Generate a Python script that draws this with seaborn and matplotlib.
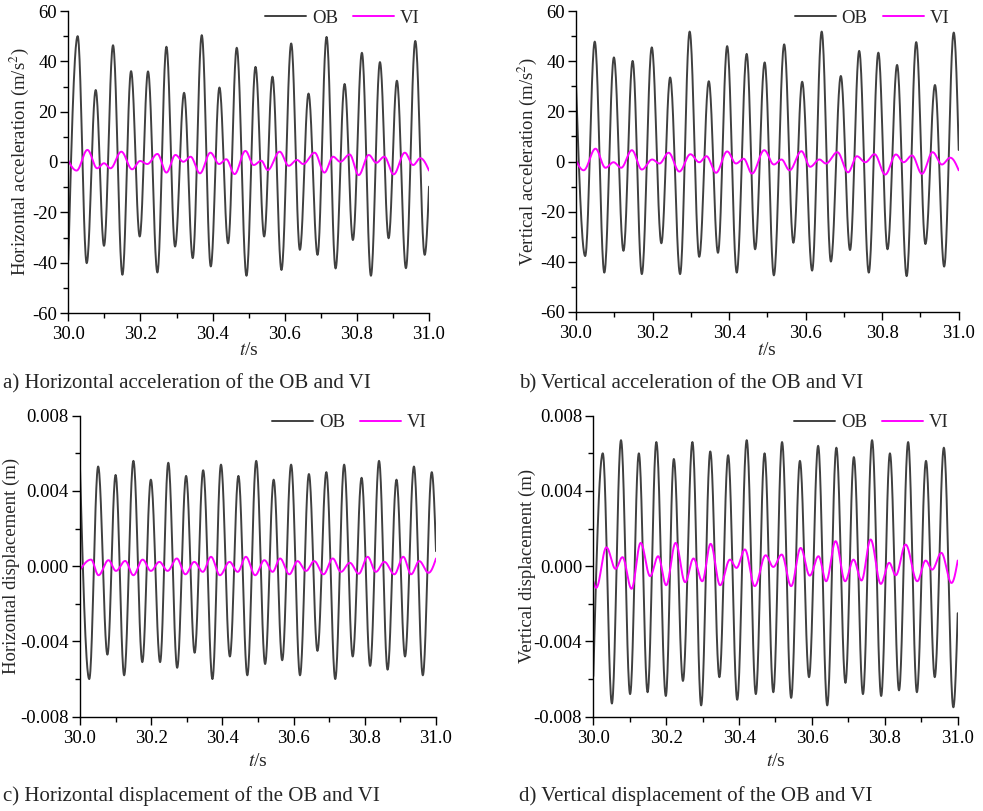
import numpy as np
import pandas as pd
import matplotlib
matplotlib.use("Agg")
import matplotlib.pyplot as plt
from matplotlib.lines import Line2D
from matplotlib.ticker import MultipleLocator, FormatStrFormatter
import seaborn as sns

# ---------------- data: extrema (time offset from 30 s, value) ----------------
# (a) horizontal acceleration, m/s^2
t_a_ob = [0.000, 0.026, 0.051, 0.076, 0.099, 0.124, 0.150, 0.174, 0.198, 0.221, 0.247, 0.272, 0.296,
          0.321, 0.345, 0.370, 0.395, 0.419, 0.443, 0.467, 0.494, 0.519, 0.543, 0.566, 0.591, 0.618,
          0.642, 0.666, 0.691, 0.716, 0.741, 0.766, 0.789, 0.814, 0.839, 0.864, 0.888, 0.911, 0.936,
          0.962, 0.988, 1.000]
v_a_ob = [-39.0, 50.0, -40.2, 28.6, -33.3, 46.4, -44.8, 36.1, -29.6, 36.0, -43.9, 45.8, -33.6,
          27.5, -38.2, 50.4, -41.5, 29.6, -32.3, 45.4, -45.2, 37.8, -29.6, 33.9, -42.9, 47.1,
          -34.9, 27.2, -36.9, 49.7, -42.3, 31.0, -31.0, 43.4, -45.2, 39.7, -30.3, 32.3, -42.2,
          48.1, -36.9, -9.8]
t_a_vi = [0.000, 0.023, 0.053, 0.080, 0.099, 0.117, 0.147, 0.177, 0.199, 0.219, 0.247, 0.272, 0.297,
          0.319, 0.339, 0.365, 0.394, 0.418, 0.438, 0.461, 0.491, 0.514, 0.535, 0.553, 0.586, 0.611,
          0.634, 0.651, 0.683, 0.710, 0.734, 0.754, 0.780, 0.805, 0.833, 0.854, 0.876, 0.902, 0.933,
          0.956, 0.976, 1.000]
v_a_vi = [0.5, -3.4, 4.8, -2.5, -0.5, -2.5, 4.1, -2.9, 0.4, -0.8, 3.2, -4.2, 2.8,
          0.1, 2.1, -4.5, 3.7, -0.8, 1.1, -4.8, 4.4, -1.2, 0.5, -3.2, 4.1, -1.5,
          0.8, -0.8, 3.7, -4.2, 2.1, 0.1, 3.0, -5.2, 2.8, -0.3, 2.1, -4.9, 3.7,
          -1.2, 1.5, -3.4]

# (b) vertical acceleration, m/s^2
t_b_ob = [0.000, 0.024, 0.049, 0.074, 0.099, 0.124, 0.148, 0.172, 0.198, 0.223, 0.246, 0.272, 0.297,
          0.322, 0.347, 0.371, 0.395, 0.420, 0.446, 0.468, 0.493, 0.517, 0.544, 0.568, 0.591, 0.617,
          0.642, 0.666, 0.692, 0.716, 0.740, 0.765, 0.790, 0.814, 0.839, 0.864, 0.889, 0.913, 0.938,
          0.962, 0.987, 1.000]
v_b_ob = [31.2, -37.7, 47.8, -44.3, 41.5, -35.6, 40.1, -44.9, 45.5, -32.6, 33.5, -44.9, 51.8,
          -38.0, 32.0, -36.4, 46.0, -44.3, 42.9, -35.0, 39.5, -45.4, 46.7, -32.4, 31.8, -43.5,
          51.8, -39.9, 34.1, -35.3, 44.1, -44.3, 43.4, -35.0, 38.5, -45.7, 47.6, -32.9, 30.5,
          -41.9, 51.4, 4.6]
t_b_vi = [0.000, 0.020, 0.051, 0.077, 0.098, 0.118, 0.146, 0.172, 0.199, 0.218, 0.242, 0.270, 0.299,
          0.322, 0.341, 0.366, 0.395, 0.418, 0.438, 0.460, 0.492, 0.517, 0.537, 0.558, 0.589, 0.612,
          0.636, 0.653, 0.683, 0.711, 0.734, 0.756, 0.780, 0.808, 0.836, 0.856, 0.878, 0.904, 0.932,
          0.956, 0.978, 1.000]
v_b_vi = [0.5, -3.5, 5.1, -2.5, -0.3, -2.5, 4.5, -3.2, 0.8, -0.8, 3.5, -4.0, 2.9,
          -0.3, 2.1, -4.5, 4.0, -0.8, 1.1, -4.8, 4.5, -1.2, 0.8, -3.5, 4.1, -2.1,
          0.8, -0.8, 3.7, -4.3, 2.1, -0.3, 2.9, -5.2, 2.8, -0.3, 2.4, -4.9, 3.7,
          -1.2, 1.5, -3.5]

# (c) horizontal displacement, m
t_c_ob = [0.000, 0.026, 0.051, 0.077, 0.100, 0.124, 0.150, 0.175, 0.199, 0.225, 0.248, 0.273, 0.298,
          0.322, 0.346, 0.372, 0.396, 0.421, 0.445, 0.470, 0.495, 0.520, 0.544, 0.568, 0.593, 0.618,
          0.643, 0.667, 0.692, 0.717, 0.742, 0.766, 0.791, 0.815, 0.840, 0.864, 0.889, 0.913, 0.938,
          0.963, 0.988, 1.000]
v_c_ob = [0.0052, -0.0060, 0.0053, -0.0047, 0.00485, -0.0058, 0.0056, -0.0051, 0.0046, -0.0051, 0.0055,
          -0.0054, 0.0048, -0.0046, 0.0051, -0.0060, 0.0054, -0.0048, 0.0048, -0.0058, 0.0056,
          -0.0052, 0.0046, -0.0050, 0.0054, -0.0058, 0.0049, -0.0045, 0.0050, -0.0060, 0.0054,
          -0.0048, 0.0047, -0.0053, 0.0056, -0.0055, 0.0046, -0.0048, 0.0053, -0.0058, 0.0050, 0.0008]
t_c_vi = [0.000, 0.031, 0.052, 0.080, 0.101, 0.127, 0.150, 0.176, 0.199, 0.223, 0.246, 0.272, 0.296,
          0.321, 0.345, 0.368, 0.393, 0.420, 0.443, 0.466, 0.492, 0.518, 0.541, 0.562, 0.588, 0.611,
          0.635, 0.658, 0.684, 0.710, 0.733, 0.758, 0.783, 0.808, 0.831, 0.855, 0.883, 0.908, 0.930,
          0.953, 0.979, 1.000]
v_c_vi = [-0.00020, 0.00035, -0.00048, 0.00032, -0.00025, 0.00028, -0.00048, 0.00035, -0.00025, 0.00023,
          -0.00025, 0.00041, -0.00043, 0.00023, -0.00030, 0.00050, -0.00048, 0.00023, -0.00030, 0.00050,
          -0.00048, 0.00032, -0.00030, 0.00041, -0.00043, 0.00027, -0.00025, 0.00027, -0.00043, 0.00041,
          -0.00030, 0.00018, -0.00040, 0.00050, -0.00030, 0.00023, -0.00043, 0.00050, -0.00043, 0.00027,
          -0.00035, 0.00041]

# (d) vertical displacement, m
t_d_ob = [0.000, 0.026, 0.051, 0.076, 0.101, 0.125, 0.149, 0.173, 0.199, 0.221, 0.246, 0.272, 0.296,
          0.321, 0.346, 0.370, 0.395, 0.421, 0.446, 0.470, 0.494, 0.518, 0.543, 0.567, 0.592, 0.617,
          0.642, 0.667, 0.692, 0.715, 0.740, 0.765, 0.790, 0.814, 0.839, 0.864, 0.888, 0.913, 0.937,
          0.962, 0.988, 1.000]
v_d_ob = [-0.00585, 0.0060, -0.0073, 0.0067, -0.0068, 0.0060, -0.0067, 0.0066, -0.0069, 0.0057, -0.0061,
          0.0066, -0.0074, 0.0061, -0.0059, 0.0059, -0.0071, 0.0067, -0.0068, 0.0060, -0.0067, 0.0066,
          -0.0070, 0.0056, -0.0059, 0.0064, -0.0074, 0.0063, -0.0062, 0.0058, -0.0068, 0.0067, -0.0069,
          0.0060, -0.0066, 0.0066, -0.0067, 0.0056, -0.0059, 0.0063, -0.0075, -0.0025]
t_d_vi = [0.000, 0.008, 0.036, 0.061, 0.080, 0.105, 0.130, 0.156, 0.178, 0.200, 0.226, 0.252, 0.275,
          0.299, 0.322, 0.348, 0.375, 0.393, 0.416, 0.443, 0.473, 0.494, 0.517, 0.543, 0.569, 0.594,
          0.618, 0.639, 0.665, 0.691, 0.714, 0.736, 0.761, 0.789, 0.812, 0.830, 0.857, 0.889, 0.912,
          0.930, 0.955, 0.983, 1.000]
v_d_vi = [-0.00080, -0.00115, 0.00100, -0.00014, 0.00048, -0.00120, 0.00124, -0.00053, 0.00053, -0.00101,
          0.00124, -0.00085, 0.00041, -0.00080, 0.00119, -0.00101, 0.00035, -0.00009, 0.00089, -0.00106,
          0.00058, -0.00004, 0.00062, -0.00106, 0.00097, -0.00050, 0.00053, -0.00080, 0.00133, -0.00080,
          0.00035, -0.00076, 0.00142, -0.00094, 0.00018, -0.00048, 0.00115, -0.00080, 0.00030, -0.00018,
          0.00071, -0.00089, 0.00030]

T0 = 30.0
series_names = ["OB", "VI"]
colors = {"OB": "#404040", "VI": "#ff00ff"}
ylabels = ["Horizontal acceleration (m/s$^2$)", "Vertical acceleration (m/s$^2$)",
           "Horizontal displacement (m)", "Vertical displacement (m)"]
captions = ["a) Horizontal acceleration of the OB and VI", "b) Vertical acceleration of the OB and VI",
            "c) Horizontal displacement of the OB and VI", "d) Vertical displacement of the OB and VI"]


def smooth_trace(ts, vs, n=24):
    """Render the extrema as a smooth oscillation (half-cosine between turning points)."""
    ts = np.asarray(ts) + T0
    vs = np.asarray(vs, dtype=float)
    out_t, out_v = [], []
    last = len(ts) - 2
    for i in range(len(ts) - 1):
        u = np.linspace(0, 1, n, endpoint=False)
        if i == 0:
            w = np.sin(np.pi / 2 * u)
        elif i == last:
            w = 1 - np.cos(np.pi / 2 * u)
        else:
            w = (1 - np.cos(np.pi * u)) / 2
        out_t.append(ts[i] + (ts[i + 1] - ts[i]) * u)
        out_v.append(vs[i] + (vs[i + 1] - vs[i]) * w)
    out_t.append([ts[-1]])
    out_v.append([vs[-1]])
    return np.concatenate(out_t), np.concatenate(out_v)


def make_df(t_ob, v_ob, t_vi, v_vi):
    frames = []
    for name, tt, vv in [("OB", t_ob, v_ob), ("VI", t_vi, v_vi)]:
        x, y = smooth_trace(tt, vv)
        frames.append(pd.DataFrame({"t": x, "value": y, "series": name}))
    return pd.concat(frames, ignore_index=True)


panels = [
    make_df(t_a_ob, v_a_ob, t_a_vi, v_a_vi),
    make_df(t_b_ob, v_b_ob, t_b_vi, v_b_vi),
    make_df(t_c_ob, v_c_ob, t_c_vi, v_c_vi),
    make_df(t_d_ob, v_d_ob, t_d_vi, v_d_vi),
]

sns.set_style("ticks")
plt.rcParams["font.family"] = ["Liberation Serif", "DejaVu Serif"]
plt.rcParams["mathtext.fontset"] = "stix"
plt.rcParams["axes.unicode_minus"] = False

W, H = 983, 811
fig = plt.figure(figsize=(W / 100, H / 100), dpi=100)

# axes boxes in pixels: left, top, right, bottom
boxes = [(68.3, 11, 429, 313), (576, 11, 958.7, 312),
         (80, 415.7, 436, 716.7), (593.3, 415.7, 957.7, 716.7)]
cap_pos = [(3, 384), (519, 384), (3, 796), (519, 796)]
xlab_y = [351, 351, 761, 761]
ylab_x = [19, 527, 11, 527]   # centre of rotated y label, px

for k, (df, box) in enumerate(zip(panels, boxes)):
    l, t, r, b = box
    ax = fig.add_axes([l / W, 1 - b / H, (r - l) / W, (b - t) / H])
    sns.lineplot(data=df, x="t", y="value", hue="series", palette=colors,
                 hue_order=series_names, estimator=None, sort=False,
                 linewidth=1.4, legend=False, ax=ax)
    ax.set_xlim(30.0, 31.0)
    ax.xaxis.set_major_locator(MultipleLocator(0.2))
    ax.xaxis.set_minor_locator(MultipleLocator(0.1))
    ax.xaxis.set_major_formatter(FormatStrFormatter("%.1f"))
    if k < 2:
        ax.set_ylim(-60, 60)
        ax.yaxis.set_major_locator(MultipleLocator(20))
        ax.yaxis.set_minor_locator(MultipleLocator(10))
        ax.yaxis.set_major_formatter(FormatStrFormatter("%d"))
    else:
        ax.set_ylim(-0.008, 0.008)
        ax.yaxis.set_major_locator(MultipleLocator(0.004))
        ax.yaxis.set_minor_locator(MultipleLocator(0.002))
        ax.yaxis.set_major_formatter(FormatStrFormatter("%.3f"))
    sns.despine(ax=ax)
    for sp in ("left", "bottom"):
        ax.spines[sp].set_linewidth(1.0)
        ax.spines[sp].set_color("black")
    ax.tick_params(which="major", direction="out", length=6, width=1, labelsize=13.5, colors="black")
    ax.tick_params(axis="y", which="major", pad=2)
    ax.tick_params(which="minor", direction="out", length=3.5, width=1, colors="black")
    ax.set_ylabel(ylabels[k], fontsize=13.5)
    ax.yaxis.label.set_verticalalignment("center")
    ax.yaxis.set_label_coords((ylab_x[k] - l) / (r - l), 0.5)
    ax.set_xlabel("")
    cx = (l + r) / 2
    fig.text(cx / W, 1 - xlab_y[k] / H, "$t$/s", fontsize=14, ha="center", va="center")
    handles = [Line2D([], [], color=colors[s], lw=1.4) for s in series_names]
    ax.legend(handles, series_names, loc="upper right", bbox_to_anchor=(0.995, 1.03),
              ncol=2, frameon=False, fontsize=13.5, handlelength=2.2, handletextpad=0.3,
              columnspacing=0.8, borderaxespad=0.0)
    fig.text(cap_pos[k][0] / W, 1 - cap_pos[k][1] / H, captions[k], fontsize=15,
             ha="left", va="center")

fig.savefig("out.png", dpi=100, facecolor="white")
